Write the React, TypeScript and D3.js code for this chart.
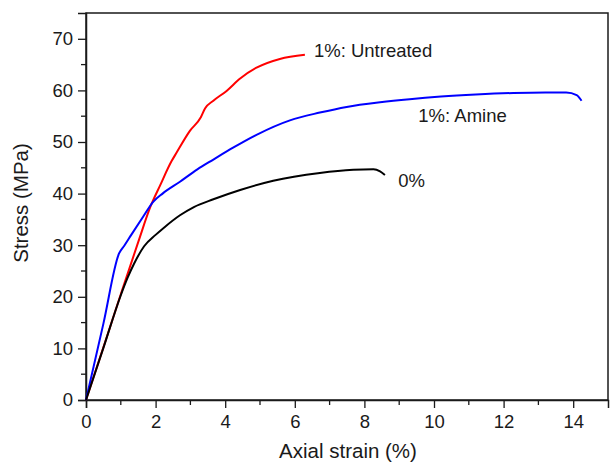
import { useEffect, useRef } from 'react';
import * as d3 from 'd3';

type Pt = [number, number];

// strain (%) vs stress (MPa)
const untreated: Pt[] = [
  [0, 0], [0.5, 10.2], [1.0, 20.5], [1.5, 30.6], [1.86, 37.6], [2.13, 41.6], [2.46, 46.3],
  [2.6, 47.9], [2.99, 52.2], [3.3, 54.8], [3.42, 56.5], [3.66, 58.0], [4.04, 59.9], [4.43, 62.3],
  [4.9, 64.4], [5.57, 66.1], [6.29, 66.9],
];

const amine: Pt[] = [
  [0, 0], [0.5, 14.8], [0.95, 28.4], [1.1, 29.9], [1.3, 32.0], [1.65, 35.6], [1.93, 38.4],
  [2.2, 40.0], [2.7, 42.3], [3.2, 44.7], [3.66, 46.6], [4.2, 48.8], [4.9, 51.4], [5.86, 54.2],
  [6.72, 55.7], [7.49, 56.8], [8.45, 57.7], [9.3, 58.3], [10.2, 58.8], [11.2, 59.2],
  [12.28, 59.5], [13.2, 59.6], [13.8, 59.6], [14.1, 59.1], [14.24, 58.0],
];

const neat: Pt[] = [
  [0, 0], [0.5, 10.1], [1.0, 20.3], [1.19, 23.6], [1.38, 26.4], [1.67, 29.8], [2.0, 32.0],
  [2.24, 33.4], [2.7, 35.8], [3.1, 37.4], [3.66, 38.9], [4.43, 40.7], [5.38, 42.5], [6.72, 44.0],
  [7.68, 44.6], [8.26, 44.7], [8.45, 44.3], [8.59, 43.6],
];

const series = [
  { name: '1%: Untreated', data: untreated, color: '#ff0000', label: [6.55, 66.5] as Pt },
  { name: '1%: Amine', data: amine, color: '#0000ff', label: [9.55, 53.9] as Pt },
  { name: '0%', data: neat, color: '#000000', label: [8.97, 41.3] as Pt },
];

const xTicks = [0, 2, 4, 6, 8, 10, 12, 14];
const yTicks = [0, 10, 20, 30, 40, 50, 60, 70];

export default function App() {
  const svgRef = useRef<SVGSVGElement>(null);

  useEffect(() => {
    if (!svgRef.current) return;
    const svg = d3.select(svgRef.current);
    svg.selectAll('*').remove();

    const left = 86, right = 608, top = 13, bottom = 400;
    const x = d3.scaleLinear().domain([0, 15]).range([left, right]);
    const y = d3.scaleLinear().domain([0, 75]).range([bottom, top]);
    const font = '"Liberation Sans", Arial, sans-serif';
    const ink = '#1a1a1a';

    // frame
    svg.append('rect')
      .attr('x', left).attr('y', top)
      .attr('width', right - left).attr('height', bottom - top)
      .attr('fill', 'none').attr('stroke', ink).attr('stroke-width', 1.5);

    // minor ticks
    const gm = svg.append('g');
    d3.range(1, 15, 2).forEach(v => {
      gm.append('line').attr('x1', x(v)).attr('x2', x(v))
        .attr('y1', bottom).attr('y2', bottom + 5).attr('stroke', ink).attr('stroke-width', 1.3);
    });
    d3.range(5, 75, 10).forEach(v => {
      gm.append('line').attr('y1', y(v)).attr('y2', y(v))
        .attr('x1', left).attr('x2', left - 5).attr('stroke', ink).attr('stroke-width', 1.3);
    });

    // axes
    const ax = svg.append('g')
      .attr('transform', `translate(0,${bottom})`)
      .call(d3.axisBottom(x).tickValues(xTicks).tickSize(8).tickPadding(7));
    const ay = svg.append('g')
      .attr('transform', `translate(${left},0)`)
      .call(d3.axisLeft(y).tickValues(yTicks).tickSize(8).tickPadding(5));
    [ax, ay].forEach(g => {
      g.select('.domain').attr('stroke', ink).attr('stroke-width', 1.5);
      g.selectAll('.tick line').attr('stroke', ink).attr('stroke-width', 1.3);
      g.selectAll('.tick text').attr('font-family', font).attr('font-size', 18.5).attr('fill', ink);
    });

    // curves
    const line = d3.line<Pt>()
      .x(d => x(d[0]))
      .y(d => y(d[1]))
      .curve(d3.curveMonotoneX);

    series.forEach(s => {
      svg.append('path')
        .datum(s.data)
        .attr('fill', 'none')
        .attr('stroke', s.color)
        .attr('stroke-width', 2)
        .attr('stroke-linejoin', 'round')
        .attr('d', line);
      svg.append('text')
        .attr('x', x(s.label[0])).attr('y', y(s.label[1]))
        .attr('font-family', font).attr('font-size', 18.5).attr('fill', ink)
        .text(s.name);
    });

    // titles
    svg.append('text')
      .attr('x', 348).attr('y', 458)
      .attr('text-anchor', 'middle')
      .attr('font-family', font).attr('font-size', 20.5).attr('fill', ink)
      .text('Axial strain (%)');
    svg.append('text')
      .attr('transform', 'translate(28,203) rotate(-90)')
      .attr('text-anchor', 'middle')
      .attr('font-family', font).attr('font-size', 20.5).attr('fill', ink)
      .text('Stress (MPa)');
  }, []);

  return (
    <svg ref={svgRef} width={610} height={464}
      style={{ position: 'absolute', left: 0, top: 0, background: '#fff' }} />
  );
}
